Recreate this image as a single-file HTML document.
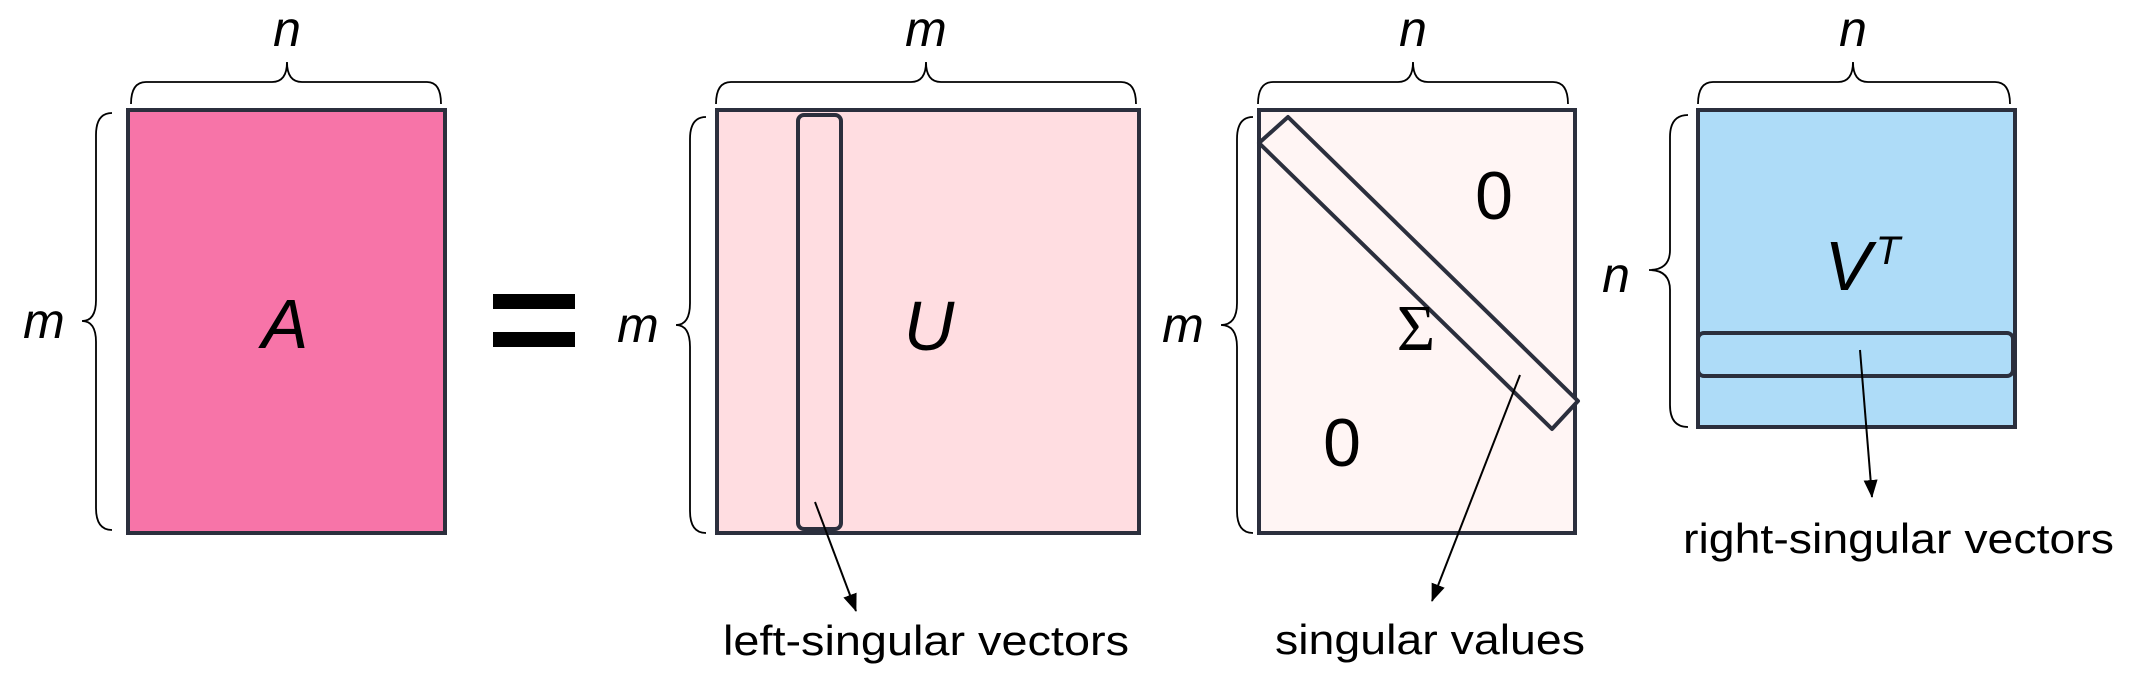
<!DOCTYPE html>
<html><head><meta charset="utf-8"><style>html,body{margin:0;padding:0;background:#fff}svg{display:block}</style></head>
<body>
<svg width="2139" height="694" viewBox="0 0 2139 694" xmlns="http://www.w3.org/2000/svg">
<defs><marker id="ah" markerWidth="18" markerHeight="14" refX="17" refY="7" orient="auto" markerUnits="userSpaceOnUse"><path d="M0,0 L18,7 L0,14 z" fill="#000"/></marker></defs>
<g fill="none" stroke="#000" stroke-width="1.8">
<path d="M131,104 Q131,82 146,82 L272,82 Q287,82 287,62 Q287,82 302,82 L427,82 Q441,82 441,104"/>
<path d="M716,104 Q716,82 731,82 L911,82 Q926,82 926,62 Q926,82 941,82 L1121,82 Q1136,82 1136,104"/>
<path d="M1258,104 Q1258,82 1273,82 L1398,82 Q1413,82 1413,62 Q1413,82 1428,82 L1553,82 Q1568,82 1568,104"/>
<path d="M1698,104 Q1698,82 1713,82 L1838,82 Q1853,82 1853,62 Q1853,82 1868,82 L1995,82 Q2010,82 2010,104"/>
<path d="M112,113 Q96,113 96,135 L96,300 Q96,321 82,321 Q96,321 96,342 L96,508 Q96,530 112,530"/>
<path d="M706,117 Q690,117 690,139 L690,303 Q690,325 676,325 Q690,325 690,347 L690,511 Q690,533 706,533"/>
<path d="M1253,117 Q1237,117 1237,139 L1237,303 Q1237,325 1221,325 Q1237,325 1237,347 L1237,511 Q1237,533 1253,533"/>
<path d="M1688,115 Q1670,115 1670,137 L1670,250 Q1670,270 1649,270 Q1670,270 1670,290 L1670,405 Q1670,427 1688,427"/>
</g>
<g stroke="#2b2f3d" stroke-width="4">
<rect x="128" y="110" width="317" height="423" fill="#f774a8"/>
<rect x="717" y="110" width="422" height="423" fill="#ffdde1"/>
<rect x="798" y="115" width="43" height="414" rx="6" fill="#ffdde1"/>
<rect x="1259" y="110" width="316" height="423" fill="#fff5f4"/>
<path d="M1288,117 L1259,143 L1552,429 L1578,401 Z" fill="#fff5f4" stroke-linejoin="round"/>
<rect x="1698" y="110" width="317" height="317" fill="#aedcf8"/>
<rect x="1698" y="333" width="315" height="43" rx="6" fill="#aedcf8"/>
</g>
<rect x="493" y="294" width="82" height="15" fill="#000"/>
<rect x="493" y="332" width="82" height="15" fill="#000"/>
<g stroke="#000" stroke-width="2" marker-end="url(#ah)">
<line x1="815" y1="502" x2="856" y2="611"/>
<line x1="1520" y1="375" x2="1432" y2="601"/>
<line x1="1860" y1="350" x2="1872" y2="497"/>
</g>
<g font-family="Liberation Sans, sans-serif" font-style="italic" font-size="50" text-anchor="middle" fill="#000">
<text x="287" y="46">n</text>
<text x="926" y="46">m</text>
<text x="1413" y="46">n</text>
<text x="1853" y="46">n</text>
<text x="44" y="338">m</text>
<text x="638" y="342">m</text>
<text x="1183" y="342">m</text>
<text x="1616" y="292">n</text>
<text x="285" y="348" font-size="70">A</text>
<text x="929" y="350" font-size="70">U</text>
<text x="1848" y="290" font-size="70">V</text>
<text x="1888" y="264" font-size="40">T</text>
</g>
<text x="1416" y="350" font-family="Liberation Serif, serif" font-size="66" text-anchor="middle">Σ</text>
<g font-family="Liberation Sans, sans-serif" font-size="68" text-anchor="middle">
<text x="1494" y="219">0</text>
<text x="1342" y="466">0</text>
</g>
<g font-family="Liberation Sans, sans-serif" font-size="42">
<text x="723" y="655" textLength="406" lengthAdjust="spacingAndGlyphs">left-singular vectors</text>
<text x="1275" y="654" textLength="310" lengthAdjust="spacingAndGlyphs">singular values</text>
<text x="1683" y="553" textLength="431" lengthAdjust="spacingAndGlyphs">right-singular vectors</text>
</g>
</svg>
</body></html>
